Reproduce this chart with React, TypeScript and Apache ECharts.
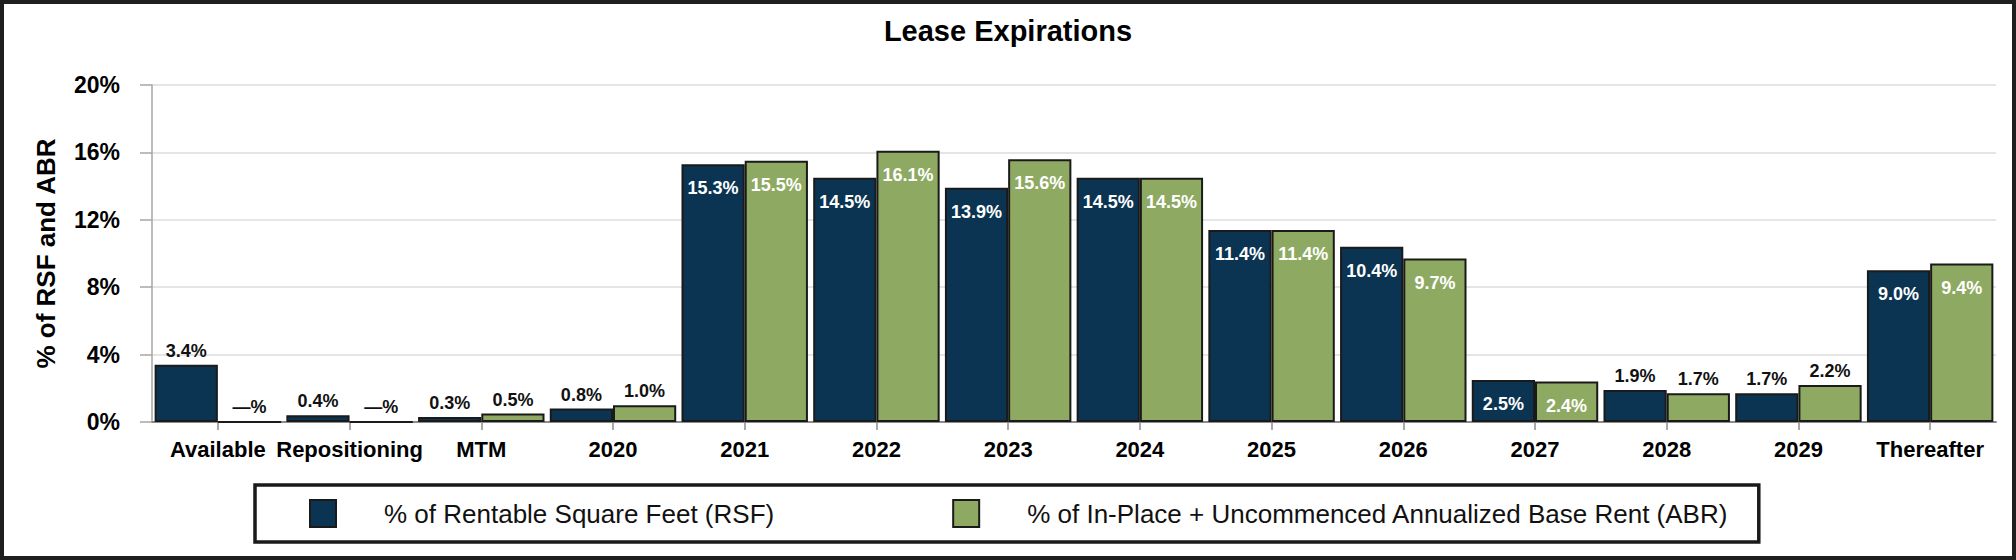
import React, { useEffect, useRef } from "react";
import * as echarts from "echarts";

const categories = [
  "Available", "Repositioning", "MTM", "2020", "2021", "2022", "2023",
  "2024", "2025", "2026", "2027", "2028", "2029", "Thereafter",
];
const rsfValues = [3.4, 0.4, 0.3, 0.8, 15.3, 14.5, 13.9, 14.5, 11.4, 10.4, 2.5, 1.9, 1.7, 9.0];
const abrValues = [0, 0, 0.5, 1.0, 15.5, 16.1, 15.6, 14.5, 11.4, 9.7, 2.4, 1.7, 2.2, 9.4];
const seriesNames = [
  "% of Rentable Square Feet (RSF)",
  "% of In-Place + Uncommenced Annualized Base Rent (ABR)",
];
const yMin = 0;
const yMax = 20;
const yStep = 4;
const outsideLabelCategories = ["Available", "Repositioning", "MTM", "2020", "2028", "2029"];

const FONT = "'Liberation Sans', Arial, Helvetica, sans-serif";
const NAVY = "#0B3452";
const GREEN = "#8EAA62";

function buildData(values: number[]) {
  return values.map((v, i) => {
    const outside = outsideLabelCategories.includes(categories[i]);
    return {
      value: v,
      label: outside
        ? { position: "top", distance: 5, color: "#111111" }
        : { position: "insideTop", distance: 15, color: "#ffffff" },
    };
  });
}

export default function App() {
  const ref = useRef<HTMLDivElement>(null);

  useEffect(() => {
    document.body.style.margin = "0";
    if (!ref.current) return;
    const chart = echarts.init(ref.current, null, { renderer: "svg" });
    const labelCommon = {
      show: true,
      fontFamily: FONT,
      fontWeight: "bold",
      fontSize: 18,
      formatter: (p: any) => (p.value === 0 ? "—%" : Number(p.value).toFixed(1) + "%"),
    };
    chart.setOption({
      animation: false,
      backgroundColor: "#ffffff",
      title: {
        text: "Lease Expirations",
        left: "center",
        top: 11,
        textStyle: { fontFamily: FONT, fontWeight: "bold", fontSize: 29, color: "#000" },
      },
      legend: {
        left: 255,
        top: 485,
        orient: "horizontal",
        itemWidth: 26,
        itemHeight: 27,
        itemGap: 178,
        padding: [14, 30, 14, 54],
        borderColor: "#1a1a1a",
        borderWidth: 3.5,
        icon: "rect",
        textStyle: { fontFamily: FONT, fontSize: 26, color: "#111", padding: [0, 0, 0, 43] },
        data: seriesNames,
      },
      grid: { left: 152, right: 20, top: 85, bottom: 138, containLabel: false },
      xAxis: {
        type: "category",
        data: categories,
        axisLine: { show: true, lineStyle: { color: "#8c8c8c", width: 2 } },
        axisTick: { show: true, alignWithLabel: true, length: 8, lineStyle: { color: "#8c8c8c", width: 1.5 } },
        axisLabel: {
          interval: 0,
          margin: 16,
          fontFamily: FONT,
          fontWeight: "bold",
          fontSize: 22,
          color: "#000",
        },
      },
      yAxis: {
        type: "value",
        min: yMin,
        max: yMax,
        interval: yStep,
        name: "% of RSF and ABR",
        nameLocation: "middle",
        nameGap: 93,
        nameTextStyle: { fontFamily: FONT, fontWeight: "bold", fontSize: 26, color: "#000" },
        axisLine: { show: true, lineStyle: { color: "#a6a6a6", width: 1.5 } },
        axisTick: { show: true, length: 12, lineStyle: { color: "#a6a6a6", width: 1.5 } },
        axisLabel: {
          margin: 32,
          formatter: "{value}%",
          fontFamily: FONT,
          fontWeight: "bold",
          fontSize: 23,
          color: "#000",
        },
        splitLine: { show: true, lineStyle: { color: "#dcdcdc", width: 1.5 } },
      },
      series: [
        {
          type: "bar",
          name: seriesNames[0],
          data: buildData(rsfValues),
          barGap: "0%",
          barCategoryGap: "4%",
          itemStyle: { color: NAVY, borderColor: "#1a1a1a", borderWidth: 2 },
          label: labelCommon,
        },
        {
          type: "bar",
          name: seriesNames[1],
          data: buildData(abrValues),
          barGap: "0%",
          barCategoryGap: "4%",
          itemStyle: { color: GREEN, borderColor: "#1a1a1a", borderWidth: 2 },
          label: labelCommon,
        },
      ],
      graphic: [
        {
          type: "rect",
          shape: { x: 2, y: 2, width: 2012, height: 556 },
          style: { fill: "none", stroke: "#1f1f1f", lineWidth: 4 },
          silent: true,
          z: 100,
        },
      ],
    });
    return () => chart.dispose();
  }, []);

  return <div ref={ref} style={{ width: 2016, height: 560 }} />;
}
